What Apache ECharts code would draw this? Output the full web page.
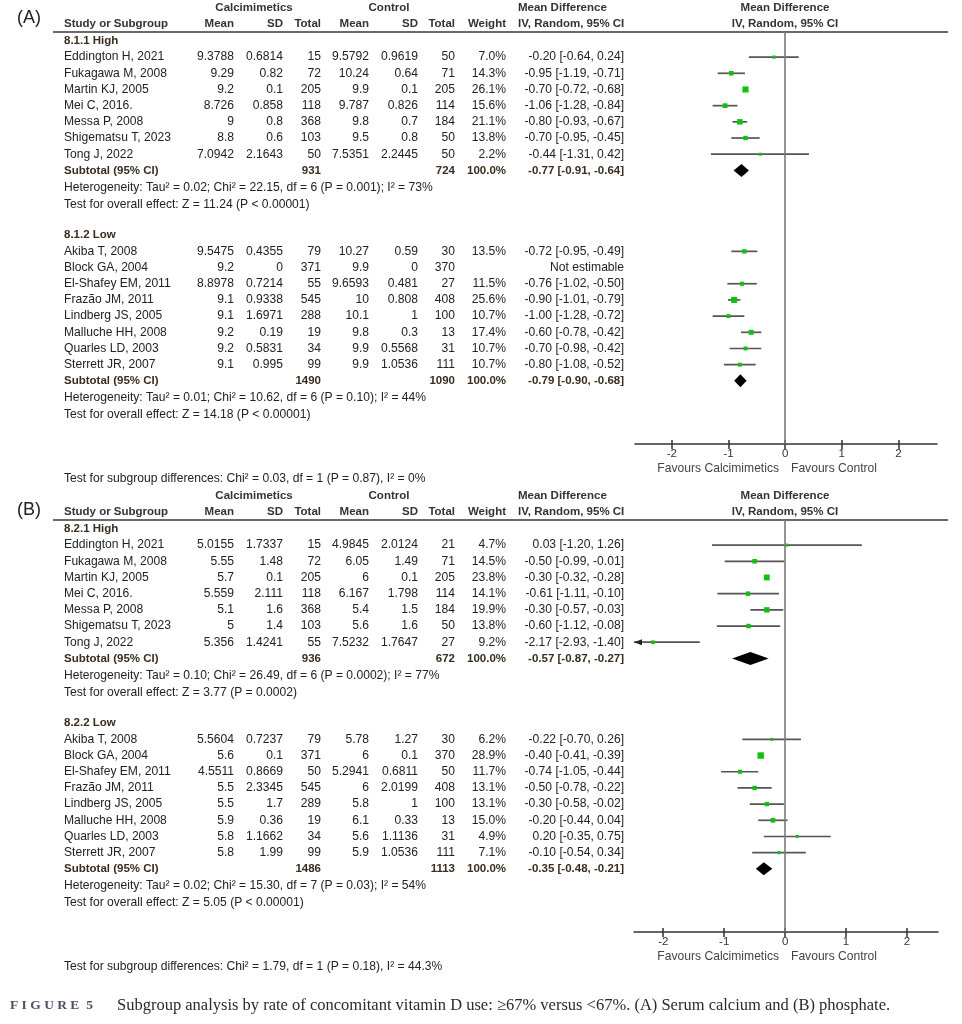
<!DOCTYPE html>
<html><head><meta charset="utf-8">
<script src="https://cdn.jsdelivr.net/npm/echarts@6/dist/echarts.min.js"></script>
<style>html,body{margin:0;padding:0;background:#fff}#c{width:962px;height:1024px}</style>
</head><body><div id="c"></div>
<script>
// ---------------- DATA ----------------
const highStudies = ['Eddington H, 2021','Fukagawa M, 2008','Martin KJ, 2005','Mei C, 2016.','Messa P, 2008','Shigematsu T, 2023','Tong J, 2022'];
const lowStudies = ['Akiba T, 2008','Block GA, 2004','El-Shafey EM, 2011','Frazão JM, 2011','Lindberg JS, 2005','Malluche HH, 2008','Quarles LD, 2003','Sterrett JR, 2007'];
const tickValues = [-2, -1, 0, 1, 2];

// Panel A: serum calcium — high vitamin D use
const A_high_calc = [[9.3788,0.6814,15],[9.29,0.82,72],[9.2,0.1,205],[8.726,0.858,118],[9,0.8,368],[8.8,0.6,103],[7.0942,2.1643,50]];
const A_high_ctrl = [[9.5792,0.9619,50],[10.24,0.64,71],[9.9,0.1,205],[9.787,0.826,114],[9.8,0.7,184],[9.5,0.8,50],[7.5351,2.2445,50]];
const A_high_weight = [7.0,14.3,26.1,15.6,21.1,13.8,2.2];
const A_high_md = [[-0.20,-0.64,0.24],[-0.95,-1.19,-0.71],[-0.70,-0.72,-0.68],[-1.06,-1.28,-0.84],[-0.80,-0.93,-0.67],[-0.70,-0.95,-0.45],[-0.44,-1.31,0.42]];
const A_high_subtotal = [931, 724, -0.77, -0.91, -0.64];
const A_high_stats = ['Heterogeneity: Tau² = 0.02; Chi² = 22.15, df = 6 (P = 0.001); I² = 73%', 'Test for overall effect: Z = 11.24 (P < 0.00001)'];
// Panel A: low vitamin D use
const A_low_calc = [[9.5475,0.4355,79],[9.2,0,371],[8.8978,0.7214,55],[9.1,0.9338,545],[9.1,1.6971,288],[9.2,0.19,19],[9.2,0.5831,34],[9.1,0.995,99]];
const A_low_ctrl = [[10.27,0.59,30],[9.9,0,370],[9.6593,0.481,27],[10,0.808,408],[10.1,1,100],[9.8,0.3,13],[9.9,0.5568,31],[9.9,1.0536,111]];
const A_low_weight = [13.5,null,11.5,25.6,10.7,17.4,10.7,10.7];
const A_low_md = [[-0.72,-0.95,-0.49],null,[-0.76,-1.02,-0.50],[-0.90,-1.01,-0.79],[-1.00,-1.28,-0.72],[-0.60,-0.78,-0.42],[-0.70,-0.98,-0.42],[-0.80,-1.08,-0.52]];
const A_low_subtotal = [1490, 1090, -0.79, -0.90, -0.68];
const A_low_stats = ['Heterogeneity: Tau² = 0.01; Chi² = 10.62, df = 6 (P = 0.10); I² = 44%', 'Test for overall effect: Z = 14.18 (P < 0.00001)'];
const A_subgroupTest = 'Test for subgroup differences: Chi² = 0.03, df = 1 (P = 0.87), I² = 0%';

// Panel B: phosphate — high vitamin D use
const B_high_calc = [[5.0155,1.7337,15],[5.55,1.48,72],[5.7,0.1,205],[5.559,2.111,118],[5.1,1.6,368],[5,1.4,103],[5.356,1.4241,55]];
const B_high_ctrl = [[4.9845,2.0124,21],[6.05,1.49,71],[6,0.1,205],[6.167,1.798,114],[5.4,1.5,184],[5.6,1.6,50],[7.5232,1.7647,27]];
const B_high_weight = [4.7,14.5,23.8,14.1,19.9,13.8,9.2];
const B_high_md = [[0.03,-1.20,1.26],[-0.50,-0.99,-0.01],[-0.30,-0.32,-0.28],[-0.61,-1.11,-0.10],[-0.30,-0.57,-0.03],[-0.60,-1.12,-0.08],[-2.17,-2.93,-1.40]];
const B_high_subtotal = [936, 672, -0.57, -0.87, -0.27];
const B_high_stats = ['Heterogeneity: Tau² = 0.10; Chi² = 26.49, df = 6 (P = 0.0002); I² = 77%', 'Test for overall effect: Z = 3.77 (P = 0.0002)'];
// Panel B: low vitamin D use
const B_low_calc = [[5.5604,0.7237,79],[5.6,0.1,371],[4.5511,0.8669,50],[5.5,2.3345,545],[5.5,1.7,289],[5.9,0.36,19],[5.8,1.1662,34],[5.8,1.99,99]];
const B_low_ctrl = [[5.78,1.27,30],[6,0.1,370],[5.2941,0.6811,50],[6,2.0199,408],[5.8,1,100],[6.1,0.33,13],[5.6,1.1136,31],[5.9,1.0536,111]];
const B_low_weight = [6.2,28.9,11.7,13.1,13.1,15.0,4.9,7.1];
const B_low_md = [[-0.22,-0.70,0.26],[-0.40,-0.41,-0.39],[-0.74,-1.05,-0.44],[-0.50,-0.78,-0.22],[-0.30,-0.58,-0.02],[-0.20,-0.44,0.04],[0.20,-0.35,0.75],[-0.10,-0.54,0.34]];
const B_low_subtotal = [1486, 1113, -0.35, -0.48, -0.21];
const B_low_stats = ['Heterogeneity: Tau² = 0.02; Chi² = 15.30, df = 7 (P = 0.03); I² = 54%', 'Test for overall effect: Z = 5.05 (P < 0.00001)'];
const B_subgroupTest = 'Test for subgroup differences: Chi² = 1.79, df = 1 (P = 0.18), I² = 44.3%';

const captionLabel = 'F I G U R E  5';
const captionText = 'Subgroup analysis by rate of concomitant vitamin D use: ≥67% versus <67%. (A) Serum calcium and (B) phosphate.';

// ---------------- BUILD ----------------
const panels = [
  {label:'(A)', labelSlot:-1.42, top:32, left:635, width:302, xMin:-2.65, xMax:2.68, subgroupTest:A_subgroupTest,
   groups:[
     {title:'8.1.1 High', studies:highStudies, calc:A_high_calc, ctrl:A_high_ctrl, weight:A_high_weight, md:A_high_md, sub:A_high_subtotal, stats:A_high_stats},
     {title:'8.1.2 Low', studies:lowStudies, calc:A_low_calc, ctrl:A_low_ctrl, weight:A_low_weight, md:A_low_md, sub:A_low_subtotal, stats:A_low_stats}]},
  {label:'(B)', labelSlot:-1.15, top:520, left:634, width:304, xMin:-2.48, xMax:2.51, subgroupTest:B_subgroupTest,
   groups:[
     {title:'8.2.1 High', studies:highStudies, calc:B_high_calc, ctrl:B_high_ctrl, weight:B_high_weight, md:B_high_md, sub:B_high_subtotal, stats:B_high_stats},
     {title:'8.2.2 Low', studies:lowStudies, calc:B_low_calc, ctrl:B_low_ctrl, weight:B_low_weight, md:B_low_md, sub:B_low_subtotal, stats:B_low_stats}]}
];

const Y_MIN = -0.55, Y_MAX = 24.9, GRID_H = 412;
const FONT = '"Liberation Sans", Arial, sans-serif';
const FS = 12.1, FSH = 11.5;
const TXT = '#222';

// assign row slots
panels.forEach(p => {
  let slot = 0;
  p.groups.forEach(g => {
    g.titleSlot = slot;
    g.studySlots = g.studies.map((s, i) => slot + 1 + i);
    g.subSlot = slot + g.studies.length + 1;
    g.hetSlot = g.subSlot + 1.05;
    g.testSlot = g.subSlot + 2.1;
    slot = g.subSlot + 4;
  });
});

function seriesData(p) {
  const out = [];
  p.groups.forEach(g => {
    g.md.forEach((m, i) => {
      if (!m) return;
      const side = Math.max(3, Math.sqrt(g.weight[i]) * 1.2);
      out.push([m[1], m[2], m[0], g.studySlots[i], side, 0]);
    });
    out.push([g.sub[3], g.sub[4], g.sub[2], g.subSlot, 0, 1]);
  });
  return out;
}

function renderForest(params, api) {
  const lo = api.value(0), hi = api.value(1), est = api.value(2), slot = api.value(3), side = api.value(4), kind = api.value(5);
  const cs = params.coordSys;
  const y = api.coord([est, slot])[1];
  const xL0 = api.coord([lo, slot])[0], xH0 = api.coord([hi, slot])[0], xE = api.coord([est, slot])[0];
  const left = cs.x, right = cs.x + cs.width;
  const xL = Math.max(xL0, left), xH = Math.min(xH0, right);
  if (kind === 1) {
    return {type:'polygon', shape:{points:[[xL,y],[xE,y-6.5],[xH,y],[xE,y+6.5]]}, style:{fill:'#000'}};
  }
  const children = [{type:'line', shape:{x1:xL,y1:y,x2:xH,y2:y}, style:{stroke:'#555', lineWidth:1.7}}];
  if (xL0 < left) children.push({type:'polygon', shape:{points:[[left,y],[left+8,y-3],[left+8,y+3]]}, style:{fill:'#222'}});
  if (xH0 > right) children.push({type:'polygon', shape:{points:[[right,y],[right-8,y-3],[right-8,y+3]]}, style:{fill:'#222'}});
  children.push({type:'rect', shape:{x:xE-side/2, y:y-side/2, width:side, height:side}, style:{fill:'#12c012'}});
  return {type:'group', children};
}

const grids = [], xAxes = [], yAxes = [], series = [];
panels.forEach((p, pi) => {
  grids.push({left:p.left, width:p.width, top:p.top, height:GRID_H, containLabel:false});
  // main axis at the bottom: line, labels and upward half of the ticks
  xAxes.push({type:'value', gridIndex:pi, position:'bottom', min:p.xMin, max:p.xMax, splitLine:{show:false},
    axisLine:{show:true, onZero:false, lineStyle:{color:'#333', width:1.5}},
    axisTick:{show:true, inside:true, customValues:tickValues, length:4, lineStyle:{color:'#333', width:1.5}},
    axisLabel:{show:true, customValues:tickValues, margin:4, color:'#333', fontSize:11.5, fontFamily:FONT}});
  // companion axis moved down onto the bottom edge: downward half of the ticks
  xAxes.push({type:'value', gridIndex:pi, position:'top', offset:-GRID_H, min:p.xMin, max:p.xMax, splitLine:{show:false},
    axisLine:{show:false}, axisLabel:{show:false},
    axisTick:{show:true, inside:true, customValues:tickValues, length:5, lineStyle:{color:'#333', width:1.5}}});
  yAxes.push({type:'value', gridIndex:pi, min:Y_MIN, max:Y_MAX, inverse:true, show:false});
  series.push({type:'custom', coordinateSystem:'cartesian2d', xAxisIndex:pi*2, yAxisIndex:pi,
    encode:{x:[0,1,2], y:3}, data:seriesData(p), renderItem:renderForest, silent:true,
    markLine:{silent:true, symbol:'none', label:{show:false}, animation:false,
      lineStyle:{color:'#7a7a7a', width:1.6, type:'solid'}, data:[{xAxis:0}]}});
});

const chart = echarts.init(document.getElementById('c'), null, {renderer:'canvas'});
chart.setOption({backgroundColor:'#fff', animation:false, grid:grids, xAxis:xAxes, yAxis:yAxes, series:series});

// ---------------- TEXT TABLE ----------------
const COL = {study:64, cMean:234, cSD:283, cTot:321, kMean:369, kSD:418, kTot:455, weight:506, ciL:518, ci:624, calcH:254, ctrlH:389, plot:785};
const G = [];
function T(x, y, str, o) {
  o = o || {};
  G.push({type:'text', x:x, y:y, silent:true, style:{text:String(str), fill:o.color||TXT,
    font:(o.bold?'bold ':'') + (o.size||FS) + 'px ' + (o.family||FONT),
    align:o.align||'left', verticalAlign:'middle'}});
}
const f2 = v => v.toFixed(2);
const ciStr = m => f2(m[0]) + ' [' + f2(m[1]) + ', ' + f2(m[2]) + ']';
const HB = {bold:true, size:FSH, color:'#333'};
const SUB = '#3a2d1f';

panels.forEach((p, pi) => {
  const yOf = s => chart.convertToPixel({seriesIndex:pi}, [0, s])[1];
  T(17, yOf(p.labelSlot), p.label, {size:18});
  const h1 = yOf(-2.05), h2 = yOf(-1.03);
  T(COL.calcH, h1, 'Calcimimetics', Object.assign({align:'center'}, HB));
  T(COL.ctrlH, h1, 'Control', Object.assign({align:'center'}, HB));
  T(COL.ciL, h1, 'Mean Difference', HB);
  T(COL.plot, h1, 'Mean Difference', Object.assign({align:'center'}, HB));
  T(COL.study, h2, 'Study or Subgroup', HB);
  [['Mean',COL.cMean],['SD',COL.cSD],['Total',COL.cTot],['Mean',COL.kMean],['SD',COL.kSD],['Total',COL.kTot],['Weight',COL.weight]]
    .forEach(h => T(h[1], h2, h[0], Object.assign({align:'right'}, HB)));
  T(COL.ciL, h2, 'IV, Random, 95% CI', HB);
  T(COL.plot, h2, 'IV, Random, 95% CI', Object.assign({align:'center'}, HB));
  const hy = yOf(Y_MIN);
  G.push({type:'line', silent:true, shape:{x1:53, y1:hy, x2:948, y2:hy}, style:{stroke:'#6a6a6a', lineWidth:2}});

  p.groups.forEach(g => {
    T(COL.study, yOf(g.titleSlot), g.title, {bold:true, size:FSH, color:SUB});
    g.studies.forEach((name, i) => {
      const y = yOf(g.studySlots[i]);
      T(COL.study, y, name);
      T(COL.cMean, y, g.calc[i][0], {align:'right'});
      T(COL.cSD, y, g.calc[i][1], {align:'right'});
      T(COL.cTot, y, g.calc[i][2], {align:'right'});
      T(COL.kMean, y, g.ctrl[i][0], {align:'right'});
      T(COL.kSD, y, g.ctrl[i][1], {align:'right'});
      T(COL.kTot, y, g.ctrl[i][2], {align:'right'});
      if (g.weight[i] != null) T(COL.weight, y, g.weight[i].toFixed(1) + '%', {align:'right'});
      T(COL.ci, y, g.md[i] ? ciStr(g.md[i]) : 'Not estimable', {align:'right'});
    });
    const ys = yOf(g.subSlot);
    const SB = {bold:true, size:FSH, align:'right', color:SUB};
    T(COL.study, ys, 'Subtotal (95% CI)', {bold:true, size:FSH, color:SUB});
    T(COL.cTot, ys, g.sub[0], SB);
    T(COL.kTot, ys, g.sub[1], SB);
    T(COL.weight, ys, '100.0%', SB);
    T(COL.ci, ys, ciStr([g.sub[2], g.sub[3], g.sub[4]]), SB);
    T(COL.study, yOf(g.hetSlot), g.stats[0]);
    T(COL.study, yOf(g.testSlot), g.stats[1]);
  });
  T(779, yOf(26.44), 'Favours Calcimimetics', {align:'right', color:'#444'});
  T(791, yOf(26.44), 'Favours Control', {color:'#444'});
  T(COL.study, yOf(27.05), p.subgroupTest);
});

T(10, 1006, captionLabel, {bold:true, size:13.5, family:'"Liberation Serif", "Times New Roman", serif', color:'#4b5263'});
T(117, 1006, captionText, {size:16.5, family:'"Liberation Serif", "Times New Roman", serif', color:'#2a2a2a'});

chart.setOption({graphic:{elements:G}});
</script>
</body></html>
